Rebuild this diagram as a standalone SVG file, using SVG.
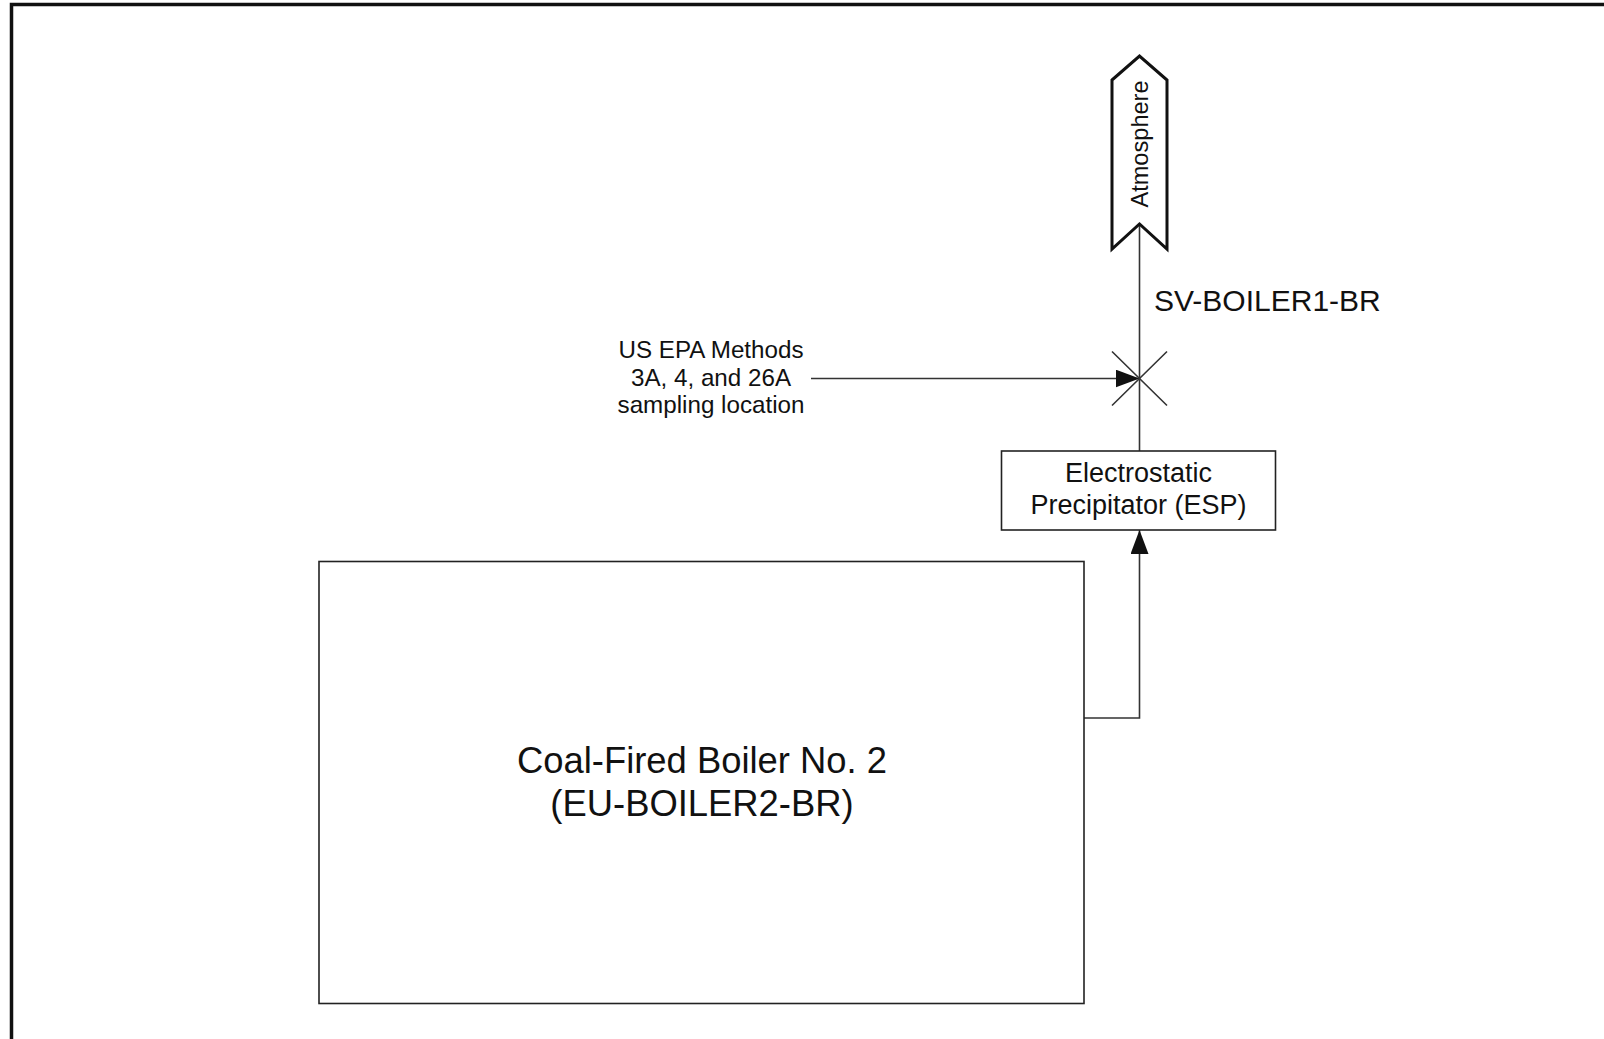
<svg xmlns="http://www.w3.org/2000/svg" width="1604" height="1039" viewBox="0 0 1604 1039">
<style>
.t{font-family:"Liberation Sans",Arial,sans-serif;fill:#111;text-anchor:middle}
.box{fill:#fff;stroke:#222;stroke-width:1.6}
.ln{fill:none;stroke:#333;stroke-width:1.6}
</style>
<defs>
<marker id="ah" viewBox="0 0 24 18" refX="24" refY="9" markerWidth="24" markerHeight="18" markerUnits="userSpaceOnUse" orient="auto">
<path d="M0,0 L24,9 L0,18 Z" fill="#111"/>
</marker>
</defs>
<rect width="1604" height="1039" fill="#fff"/>
<g id="frame">
<path d="M11.5,1039 V4.5 H1604" fill="none" stroke="#111" stroke-width="3.5"/>
</g>
<g id="connectors">
<path class="ln" d="M1139.5,451 V224"/>
<path class="ln" d="M1084,718 H1139.5 V530" marker-end="url(#ah)"/>
<path class="ln" d="M811,378.5 H1139.5" marker-end="url(#ah)"/>
<path class="ln" d="M1112,351.5 L1167,405.5 M1167,351.5 L1112,405.5"/>
</g>
<g id="atmosphere">
<path d="M1112,80 L1139.5,56 L1167,80 V249 L1139.5,224 L1112,249 Z" fill="#fff" stroke="#111" stroke-width="3"/>
<text class="t" font-size="23.6" transform="translate(1147.5,144) rotate(-90)">Atmosphere</text>
</g>
<g id="stack-label">
<text class="t" font-size="30" x="1154" y="311" style="text-anchor:start">SV-BOILER1-BR</text>
</g>
<g id="sampling-label">
<text class="t" font-size="24.2" x="711" y="358">US EPA Methods</text>
<text class="t" font-size="24.2" x="711" y="385.7">3A, 4, and 26A</text>
<text class="t" font-size="24.2" x="711" y="413.3">sampling location</text>
</g>
<g id="esp">
<rect class="box" x="1001.5" y="451" width="274" height="79"/>
<text class="t" font-size="27" x="1138.5" y="482">Electrostatic</text>
<text class="t" font-size="27" x="1138.5" y="513.5">Precipitator (ESP)</text>
</g>
<g id="boiler">
<rect class="box" x="319" y="561.5" width="765" height="442"/>
<text class="t" font-size="36.4" x="702" y="772.5">Coal-Fired Boiler No. 2</text>
<text class="t" font-size="36.4" x="702" y="815.5">(EU-BOILER2-BR)</text>
</g>
</svg>
